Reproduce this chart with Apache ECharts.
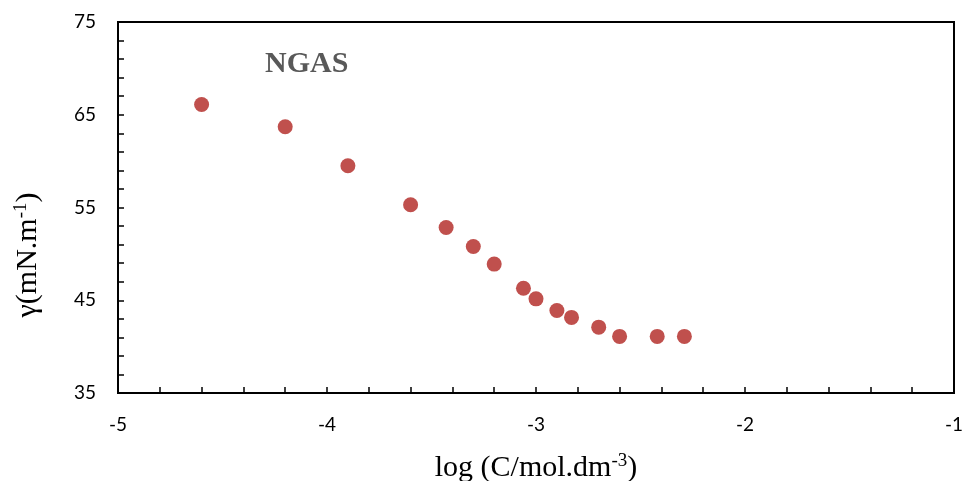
<!DOCTYPE html>
<html>
<head>
<meta charset="utf-8">
<script src="https://cdn.jsdelivr.net/npm/echarts@6/dist/echarts.min.js"></script>
<style>
    html, body { margin: 0; padding: 0; background: #fff; }
    #chart { width: 963px; height: 481px; }
</style>
</head>
<body>
<div id="chart"></div>
<script>
// log C values and surface tension
const logC = [-4.6, -4.2, -3.9, -3.6, -3.43, -3.3, -3.2, -3.06, -3.0, -2.9, -2.83, -2.7, -2.6, -2.42, -2.29];
const gamma = [66.1, 63.7, 59.5, 55.3, 52.85, 50.8, 48.9, 46.3, 45.15, 43.9, 43.15, 42.1, 41.1, 41.1, 41.1];

const points = logC.map((x, i) => [x, gamma[i]]);

const tickFont = { fontFamily: "Lato", fontSize: 19, color: "#000" };
const serif = "Liberation Serif";
const nameRich = {
    a: { fontFamily: serif, fontSize: 30, color: "#000" },
    s: { fontFamily: serif, fontSize: 19, color: "#000", padding: [0, 0, 14, 0] },
};

const chart = echarts.init(document.getElementById("chart"));
chart.setOption({
    animation: false,
    grid: {
        left: 118,
        right: 9,
        top: 22,
        bottom: 88,
        outerBoundsMode: "none",
        containLabel: false,
        show: true,
        borderColor: "#000",
        borderWidth: 2,
    },
    xAxis: {
        type: "value",
        min: -5,
        max: -1,
        interval: 1,
        axisLine: { lineStyle: { color: "#000", width: 2 } },
        axisTick: { inside: true, length: 6, lineStyle: { color: "#000", width: 1.5 } },
        minorTick: { show: true, splitNumber: 5, length: 6, lineStyle: { color: "#000", width: 1.5 } },
        splitLine: { show: false },
        axisLabel: { ...tickFont, margin: 22 },
        name: "{a|log (C/mol.dm}{s|-3}{a|)}",
        nameLocation: "middle",
        nameGap: 59,
        nameTextStyle: { rich: nameRich },
    },
    yAxis: {
        type: "value",
        min: 35,
        max: 75,
        interval: 10,
        axisLine: { lineStyle: { color: "#000", width: 2 } },
        axisTick: { inside: true, length: 6, lineStyle: { color: "#000", width: 1.5 } },
        minorTick: { show: true, splitNumber: 5, length: 6, lineStyle: { color: "#000", width: 1.5 } },
        splitLine: { show: false },
        axisLabel: { ...tickFont, margin: 22 },
    },
    graphic: [
        {
            type: "text",
            left: 265,
            top: 49,
            style: {
                text: "NGAS",
                font: "bold 30px 'Liberation Serif'",
                fill: "#595959",
            },
        },
        {
            // y axis title, sits a bit below the plot middle in the original
            type: "text",
            x: 28,
            y: 255,
            rotation: Math.PI / 2,
            style: {
                text: "{a|γ(mN.m}{s|-1}{a|)}",
                rich: nameRich,
                align: "center",
                verticalAlign: "middle",
            },
        },
    ],
    series: [
        {
            type: "scatter",
            data: points,
            symbol: "circle",
            symbolSize: 15,
            itemStyle: { color: "#C0504D", opacity: 1 },
        },
    ],
});
</script>
</body>
</html>
